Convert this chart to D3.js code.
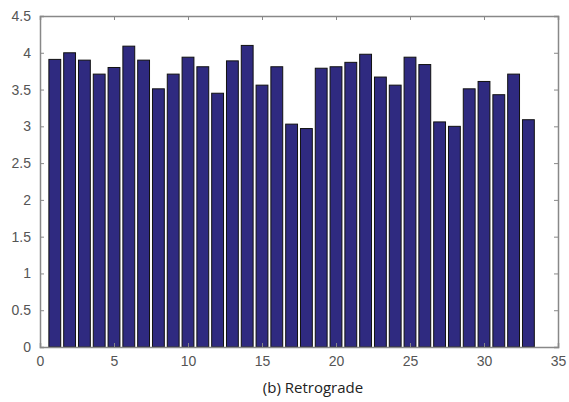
<!DOCTYPE html>
<html>
<head>
<meta charset="utf-8">
<script src="https://cdn.jsdelivr.net/npm/d3@7"></script>
<style>
  body { margin: 0; background: #fff; }
</style>
</head>
<body>
<div id="chart"></div>
<script>
// Bar values (bars 1..33)
const indices = d3.range(1, 34);
const values = [3.91, 4.00, 3.90, 3.71, 3.80, 4.09, 3.90, 3.51, 3.71, 3.94,
                3.81, 3.45, 3.89, 4.10, 3.56, 3.81, 3.03, 2.97, 3.79, 3.81,
                3.87, 3.98, 3.67, 3.56, 3.94, 3.84, 3.06, 3.00, 3.51, 3.61,
                3.43, 3.71, 3.09];
const xTicks = [0, 5, 10, 15, 20, 25, 30, 35];
const yTicks = [0, 0.5, 1, 1.5, 2, 2.5, 3, 3.5, 4, 4.5];
const caption = "(b) Retrograde";

const width = 569, height = 402;
const margin = {left: 40, right: 11, top: 16, bottom: 55};

const svg = d3.select("#chart").append("svg")
              .attr("width", width)
              .attr("height", height);

const x = d3.scaleLinear().domain([0, 35]).range([margin.left, width - margin.right]);
const y = d3.scaleLinear().domain([0, 4.5]).range([height - margin.bottom, margin.top]);

const barW = (x(1) - x(0)) * 0.8;

// Bars
svg.append("g")
   .selectAll("rect")
   .data(values)
   .join("rect")
   .attr("x", (d, i) => x(indices[i]) - barW / 2)
   .attr("y", d => y(d))
   .attr("width", barW)
   .attr("height", d => y(0) - y(d))
   .attr("fill", "#2f2a80")
   .attr("stroke", "#111")
   .attr("stroke-width", 1);

const axisColor = "#888";

// Bottom and left axes with inward ticks
const gx = svg.append("g")
   .attr("transform", `translate(0,${y(0)})`)
   .call(d3.axisBottom(x).tickValues(xTicks).tickSize(-4).tickPadding(9).tickFormat(d3.format("d")));
const gy = svg.append("g")
   .attr("transform", `translate(${x(0)},0)`)
   .call(d3.axisLeft(y).tickValues(yTicks).tickSize(-4).tickPadding(9).tickFormat(d => d));

// Top and right axes (box), ticks only
const gt = svg.append("g")
   .attr("transform", `translate(0,${y(4.5)})`)
   .call(d3.axisTop(x).tickValues(xTicks).tickSize(-4).tickFormat(""));
const gr = svg.append("g")
   .attr("transform", `translate(${x(35)},0)`)
   .call(d3.axisRight(y).tickValues(yTicks).tickSize(-4).tickFormat(""));

[gx, gy, gt, gr].forEach(g => {
  g.attr("font-family", "'Liberation Sans', Arial, sans-serif").attr("font-size", 14);
  g.select(".domain").attr("stroke", axisColor).attr("stroke-width", 1.5);
  g.selectAll(".tick line").attr("stroke", axisColor);
  g.selectAll(".tick text").attr("fill", "#555");
});

// Caption
svg.append("text")
   .attr("x", 313)
   .attr("y", 393)
   .attr("text-anchor", "middle")
   .attr("font-family", "'Open Sans', 'Noto Sans', sans-serif")
   .attr("font-size", 15)
   .attr("fill", "#222")
   .text(caption);
</script>
</body>
</html>
